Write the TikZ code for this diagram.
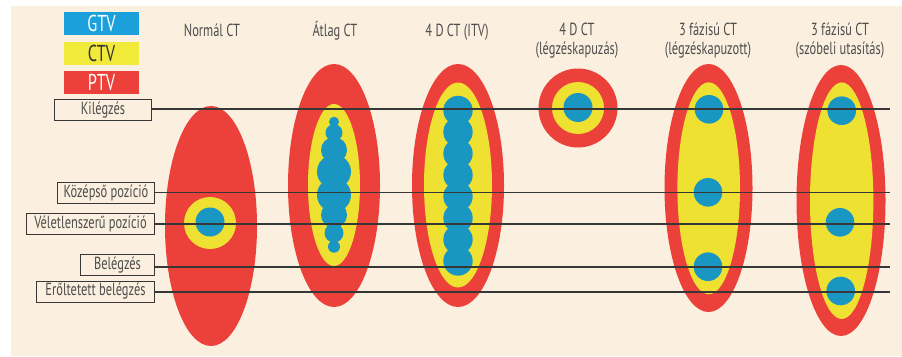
\documentclass[tikz,border=0pt]{standalone}
\usepackage{fontspec}
\setmainfont{PT Sans}[FakeStretch=0.71]
\definecolor{bg}{RGB}{251,239,223}
\definecolor{ptv}{RGB}{236,64,58}
\definecolor{ctv}{RGB}{239,225,50}
\definecolor{gtv}{RGB}{26,150,195}
\definecolor{gtvl}{RGB}{27,160,220}
\definecolor{ctvl}{RGB}{242,234,58}
\definecolor{txt}{RGB}{77,77,77}
\definecolor{ln}{RGB}{55,55,55}
\begin{document}
\begin{tikzpicture}[x=1pt,y=-1pt,
  title/.style={font=\fontsize{17.5}{20}\selectfont, text=txt, inner sep=0pt, anchor=base},
  lbl/.style={draw=ln, line width=1pt, fill=bg, font=\fontsize{17.5}{20}\selectfont, text=txt,
              minimum height=21pt, inner sep=0pt, anchor=east},
  leg/.style={minimum width=75pt, minimum height=23pt, inner sep=0pt, font=\fontsize{23}{25}\selectfont},
  hline/.style={draw=ln, line width=1.2pt}]
\useasboundingbox (0,0) rectangle (902,356);
\fill[white] (0,0) rectangle (902,356);
\fill[bg] (11,6) rectangle (902,356);

% legend
\node[leg, fill=gtvl, text=white] (lgtv) at (101.5,23.5) {GTV};
\node[leg, fill=ctvl, text=black!80] (lctv) at (101.5,53.5) {CTV};
\node[leg, fill=ptv, text=white] (lptv) at (101.5,82.5) {PTV};

% titles
\node[title] (t1) at (212,36.7) {Normál CT};
\node[title] (t2) at (335,36.7) {Átlag CT};
\node[title] (t3) at (457,36.7) {4 D CT (ITV)};
\node[title] (t4a) at (577,35) {4 D CT};
\node[title] (t4b) at (577,54) {(légzéskapuzás)};
\node[title] (t5a) at (708,35) {3 fázisú CT};
\node[title] (t5b) at (708,54) {(légzéskapuzott)};
\node[title] (t6a) at (840,35) {3 fázisú CT};
\node[title] (t6b) at (840,54) {(szóbeli utasítás)};

% Normal CT
\fill[ptv] (211,226) ellipse [x radius=46, y radius=120];
\fill[ctv] (210,223) circle [radius=26];
\fill[gtv] (210,222) circle [radius=14.5];

% Atlag CT
\fill[ptv] (334,185.5) ellipse [x radius=46, y radius=121.5];
\fill[ctv] (334,185) ellipse [x radius=26, y radius=81];
\foreach \yy/\rr in {121.7/5, 132.7/8.5, 150/13, 171.7/17, 195/17, 215/13, 233/9.5, 246.7/6}
  \fill[gtv] (334,\yy) circle [radius=\rr];

% 4D CT ITV
\fill[ptv] (458,185.5) ellipse [x radius=46, y radius=121.5];
\fill[ctv] (458,185) ellipse [x radius=34, y radius=102.5];
\foreach \yy in {110.5, 132, 153.5, 175, 196.5, 218, 239.5, 261}
  \fill[gtv] (458,\yy) circle [radius=14.7];

% 4D CT gating
\fill[ptv] (578,108) circle [radius=39.5];
\fill[ctv] (578,108) circle [radius=26];
\fill[gtv] (578,107.5) circle [radius=14.5];

% 3 phase gated
\fill[ptv] (708.5,188) ellipse [x radius=44, y radius=124];
\fill[ctv] (708.7,188.3) ellipse [x radius=31.3, y radius=106];
\fill[gtv] (709,109.3) circle [radius=14.3];
\fill[gtv] (708,192.3) circle [radius=14.3];
\fill[gtv] (708,266.7) circle [radius=14.3];

% 3 phase verbal
\fill[ptv] (841,200.5) ellipse [x radius=44.5, y radius=135.5];
\fill[ctv] (841.7,200.7) ellipse [x radius=31.7, y radius=118.3];
\fill[gtv] (841.7,110.7) circle [radius=14.3];
\fill[gtv] (840,222.3) circle [radius=14.3];
\fill[gtv] (840.7,291) circle [radius=14.3];

% level boxes
\coordinate (rend) at (890,0);
\node[lbl, minimum width=97pt] (kil) at (152,110) {Kilégzés};
\node[lbl, minimum width=97pt] (koz) at (155,192.5) {Középső pozíció};
\node[lbl, minimum width=128pt] (vel) at (155,223.5) {Véletlenszerű pozíció};
\node[lbl, minimum width=74pt] (bel) at (155,265) {Belégzés};
\node[lbl, minimum width=118pt] (ero) at (155,291.5) {Erőltetett belégzés};

\draw[hline] ([yshift=1pt]kil.east) -- ([yshift=1pt]kil.east -| rend);
\draw[hline] (koz.east) -- (koz.east -| rend);
\draw[hline] ([yshift=-0.5pt]vel.east) -- ([yshift=-0.5pt]vel.east -| rend);
\draw[hline] ([yshift=-2pt]bel.east) -- ([yshift=-2pt]bel.east -| rend);
\draw[hline] ([yshift=-0.5pt]ero.east) -- ([yshift=-0.5pt]ero.east -| rend);
\end{tikzpicture}
\end{document}
